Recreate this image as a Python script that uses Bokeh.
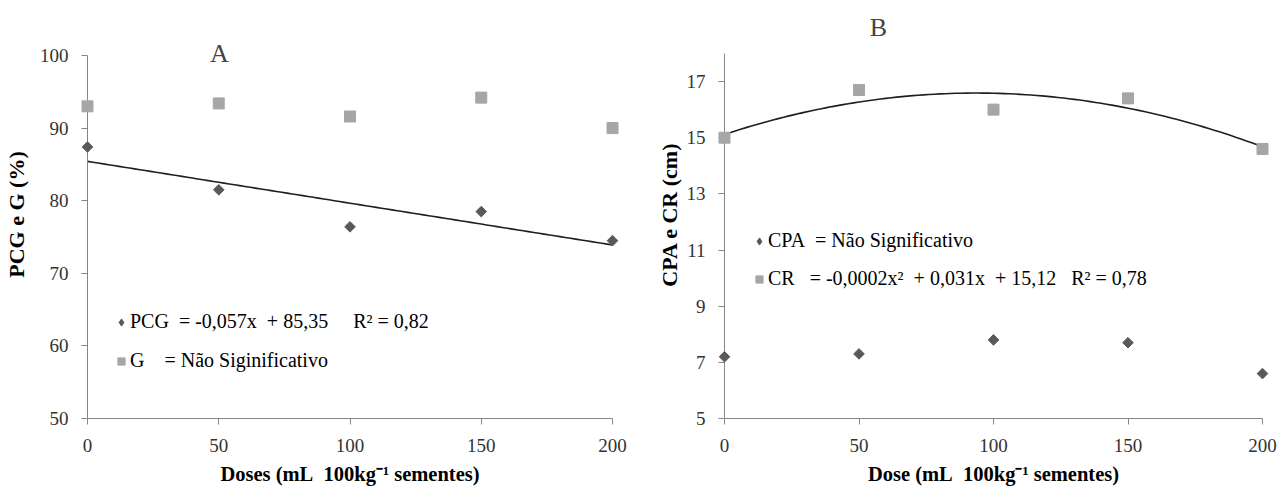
import numpy as np
from bokeh.plotting import figure
from bokeh.models import Range1d, Legend, LegendItem, Label
from bokeh.layouts import row
from bokeh.embed import file_html
from bokeh.resources import INLINE

# ---------------- data ----------------
doses = [0, 50, 100, 150, 200]
pcg = [87.4, 81.5, 76.4, 78.5, 74.5]
g = [93.0, 93.4, 91.6, 94.2, 90.0]
cpa = [7.2, 7.3, 7.8, 7.7, 6.6]
cr = [15.0, 16.7, 16.0, 16.4, 14.6]

x_ticks = [0, 50, 100, 150, 200]
y_ticks_a = [50, 60, 70, 80, 90, 100]
y_ticks_b = [5, 7, 9, 11, 13, 15, 17]

NB = "\u00a0"
def sp(s):
    return s.replace(" ", NB)

leg_a = [sp("PCG  = -0,057x  + 85,35     R² = 0,82"), sp("G    = Não Siginificativo")]
leg_b = [sp("CPA  = Não Significativo"), sp("CR   = -0,0002x²  + 0,031x  + 15,12   R² = 0,78")]
xlab_a = sp("Doses (mL  100kg⁻¹ sementes)")
xlab_b = sp("Dose (mL  100kg⁻¹ sementes)")
ylab_a = "PCG e G (%)"
ylab_b = "CPA e CR (cm)"

SERIF = "Liberation Serif"
AXC = "#868686"
DARK = "#595959"
LIGHT = "#a6a6a6"


def style(p, yb, yticks, xlab, ylab, ylab_standoff):
    p.grid.visible = False
    p.outline_line_color = None
    for ax in (p.xaxis[0], p.yaxis[0]):
        ax.axis_line_color = AXC
        ax.major_tick_line_color = AXC
        ax.minor_tick_line_color = None
        ax.major_tick_in = 0
        ax.major_tick_out = 6
        ax.major_label_text_font = SERIF
        ax.major_label_text_font_size = "19px"
        ax.major_label_text_color = "#333333"
        ax.axis_label_text_font = SERIF
        ax.axis_label_text_font_style = "bold"
        ax.axis_label_text_color = "#000000"
    xa, ya = p.xaxis[0], p.yaxis[0]
    xa.ticker = x_ticks
    xa.bounds = (0, 200)
    xa.axis_label = xlab
    xa.axis_label_text_font_size = "20.5px"
    xa.major_label_standoff = 14
    xa.axis_label_standoff = 8
    ya.ticker = yticks
    ya.bounds = yb
    ya.axis_label = ylab
    ya.axis_label_text_font_size = "22px"
    ya.major_label_standoff = 13
    ya.axis_label_standoff = ylab_standoff


def legend(p, items, loc, spacing):
    lg = Legend(items=items, location=loc, orientation="vertical",
                label_text_font=SERIF, label_text_font_size="20px",
                label_text_color="#000000", click_policy="none",
                glyph_width=18, glyph_height=20, label_height=20,
                label_standoff=0, spacing=spacing, padding=0, margin=0,
                border_line_color=None, background_fill_alpha=0)
    p.add_layout(lg)


xs = np.linspace(0, 200, 101)

# ---------------- panel A ----------------
pa = figure(width=640, height=488, output_backend="svg", toolbar_location=None,
            x_range=Range1d(0, 200), y_range=Range1d(50, 106.2),
            min_border_left=86, min_border_right=28, min_border_top=10, min_border_bottom=70)
fit_a = np.polyfit(doses, pcg, 1)
pa.line(xs, np.polyval(fit_a, xs), line_color="#1f1f1f", line_width=1.6)
r_g = pa.scatter(doses, g, marker="square", size=11, fill_color=LIGHT, line_color=LIGHT,
                 level="overlay")
pa.scatter(doses, pcg, marker="square", angle=np.pi / 4, size=7.5,
           fill_color=DARK, line_color=DARK, level="overlay")
lg_pcg = pa.scatter(doses, pcg, marker="diamond", size=12, fill_color=DARK,
                    line_color=DARK, visible=False)
style(pa, (50, 100), y_ticks_a, xlab_a, ylab_a, 8)
legend(pa, [LegendItem(label=leg_a[0], renderers=[lg_pcg]),
            LegendItem(label=leg_a[1], renderers=[r_g])], (25, 46), 16)
pa.add_layout(Label(x=50.2, y=100.3, text="A", text_font=SERIF, text_font_size="26px",
                    text_align="center", text_baseline="middle"))

# ---------------- panel B ----------------
pb = figure(width=638, height=488, output_backend="svg", toolbar_location=None,
            x_range=Range1d(0, 200), y_range=Range1d(5, 19.53),
            min_border_left=84, min_border_right=16, min_border_top=10, min_border_bottom=70)
fit_b = np.polyfit(doses, cr, 2)
pb.line(xs, np.polyval(fit_b, xs), line_color="#1f1f1f", line_width=1.6)
r_cr = pb.scatter(doses, cr, marker="square", size=11, fill_color=LIGHT, line_color=LIGHT,
                  level="overlay")
pb.scatter(doses, cpa, marker="square", angle=np.pi / 4, size=7.5,
           fill_color=DARK, line_color=DARK, level="overlay")
lg_cpa = pb.scatter(doses, cpa, marker="diamond", size=12, fill_color=DARK,
                    line_color=DARK, visible=False)
style(pb, (5, 18), y_ticks_b, xlab_b, ylab_b, 2)
legend(pb, [LegendItem(label=leg_b[0], renderers=[lg_cpa]),
            LegendItem(label=leg_b[1], renderers=[r_cr])], (26, 128), 15)
pb.add_layout(Label(x=57.2, y=18.92, text="B", text_font=SERIF, text_font_size="26px",
                    text_align="center", text_baseline="middle"))

layout = row(pa, pb)
open("out.html", "w").write(file_html(layout, INLINE))
